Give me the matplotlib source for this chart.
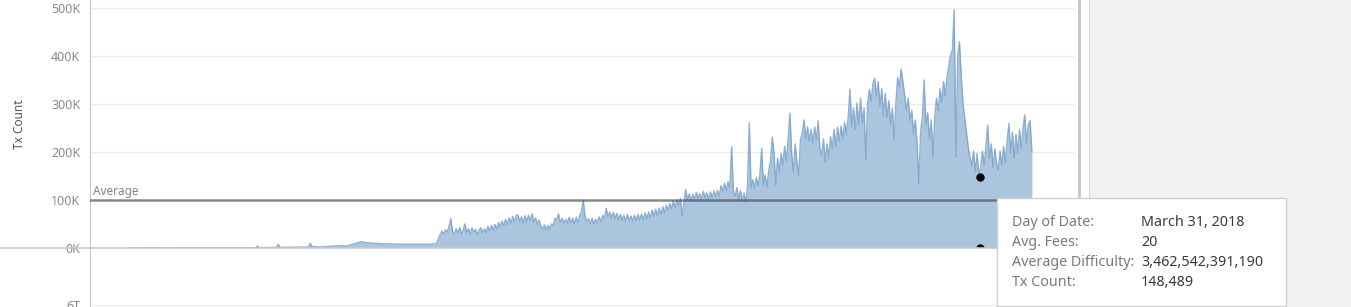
import pandas as pd
import matplotlib.pyplot as plt
from matplotlib.patches import Rectangle
from matplotlib.lines import Line2D

plt.rcParams['font.family'] = ['Noto Sans', 'DejaVu Sans']

# Tx count (thousands) before the 2012 jump
early_dates = ["2009-01-03", "2009-06-01", "2010-01-01", "2010-05-20", "2010-05-27", "2010-06-03",
               "2010-08-10", "2010-08-17", "2010-08-24", "2010-12-15", "2010-12-22", "2010-12-29",
               "2011-02-01", "2011-04-24", "2011-05-15", "2011-06-15", "2011-07-10", "2011-08-01",
               "2011-10-01", "2011-12-01", "2012-02-01", "2012-03-25"]
early_counts = [0.1, 0.1, 0.3, 0.5, 4, 0.8,
                1, 8, 1.2, 2, 10, 3,
                2, 5, 4, 9, 13, 11,
                9, 8, 8, 8]

# Tx count (thousands), one value per week from April 2012
weekly_start = "2012-04-01"
weekly_counts = [
    8, 7, 8, 9, 8, 10,
    20, 28, 35, 30, 38, 33, 45, 62,
    35, 28, 40, 30, 43, 29, 38, 50,
    32, 40, 29, 42, 33, 39, 28, 37,
    42, 31, 40, 33, 45, 36, 47, 37, 49, 40,
    53, 44, 56, 46, 60, 49, 63, 52, 66, 54,
    68, 69, 55, 65, 52, 67, 55, 68, 57, 71,
    54, 63, 50, 58, 45, 40, 48, 38, 47, 40,
    50, 48, 62, 60, 71, 53, 62, 51, 60, 52,
    64, 53, 62, 50, 64, 54, 67, 76, 100, 66,
    55, 61, 50, 62, 50, 60, 53, 65, 55, 68,
    62, 83, 64, 75, 62, 74, 61, 72, 59, 70,
    58, 68, 56, 70, 58, 67, 55, 68, 57, 70,
    58, 71, 59, 73, 61, 75, 63, 79, 66, 81,
    68, 83, 70, 86, 73, 89, 78, 93, 81, 98,
    84, 100, 88, 103, 66, 96, 122, 100, 113, 99,
    112, 101, 116, 104, 113, 101, 118, 104, 115, 102,
    117, 105, 119, 107, 120, 108, 130, 118, 135, 121,
    138, 126, 211, 118, 108, 126, 100, 120, 97, 114,
    96, 126, 261, 125, 142, 124, 147, 130, 152, 208,
    132, 152, 126, 162, 180, 231, 198, 131, 187, 158,
    197, 172, 212, 182, 227, 281, 198, 158, 217, 178,
    152, 227, 238, 267, 226, 252, 222, 247, 217, 252,
    226, 265, 207, 193, 227, 178, 217, 188, 232, 207,
    247, 212, 252, 222, 254, 227, 262, 237, 272, 331,
    252, 292, 247, 302, 257, 312, 262, 292, 183, 302,
    330, 306, 342, 354, 316, 347, 296, 332, 276, 322,
    272, 307, 257, 292, 225, 302, 355, 336, 373, 346,
    318, 286, 312, 266, 287, 237, 267, 217, 135, 242,
    272, 350, 257, 282, 227, 267, 190, 272, 312, 287,
    332, 302, 347, 317, 358, 380, 402, 412, 496, 190,
    400, 430, 360, 300, 270, 240, 210, 188, 172, 202,
    158, 197, 150, 168, 202, 172, 212, 256, 187, 217,
    168, 207, 177, 163, 202, 172, 212, 178, 222, 260,
    197, 242, 188, 237, 197, 247, 207, 252, 277, 217,
    257, 265, 200,
]

average_tx = 100
y_ticks = [0, 100, 200, 300, 400, 500]
y_labels = ["0K", "100K", "200K", "300K", "400K", "500K"]

tip_date = "2018-03-31"
tip_count = 148489
tip_fees = 20
tip_labels = ["Day of Date:", "Avg. Fees:", "Average Difficulty:", "Tx Count:"]
tip_values = ["March 31, 2018", "20", "3,462,542,391,190", "148,489"]

dates = list(pd.to_datetime(early_dates)) + list(pd.date_range(weekly_start, periods=len(weekly_counts), freq="7D"))
counts = early_counts + weekly_counts

W, H = 1351, 307
fig = plt.figure(figsize=(W / 100, H / 100), dpi=100)

# grey side panel
fig.patches.append(Rectangle((1089 / W, 0), (W - 1089) / W, 1, transform=fig.transFigure,
                             facecolor="#f1f1f1", edgecolor="none", zorder=0))

ax = fig.add_axes([90 / W, 1 - 248 / H, 984 / W, 248 / H])
ax.fill_between(dates, counts, 0, color="#abc5de", lw=0, zorder=2)
ax.plot(dates, counts, color="#7ba3ca", lw=1.0, alpha=0.85, zorder=2)
ax.axhline(average_tx, color="#333333", alpha=0.55, lw=1.8, zorder=3)
ax.text(pd.Timestamp("2008-08-12"), average_tx + 4, "Average", color="#858585", fontsize=8.5,
        va="bottom", ha="left")
ax.plot([pd.Timestamp(tip_date)], [tip_count / 1000], "o", color="black", ms=5, zorder=4)
ax.plot([pd.Timestamp(tip_date)], [tip_fees / 1000], "o", color="black", ms=5, zorder=4)

ax.set_xlim(pd.Timestamp("2008-08-01"), pd.Timestamp("2019-04-06"))
ax.set_ylim(0, 516.7)
ax.set_yticks(y_ticks)
ax.set_yticklabels(y_labels)
ax.tick_params(axis="y", length=0, pad=7, labelsize=9, labelcolor="#8a8a8a")
ax.set_xticks([])
ax.yaxis.grid(True, color="#ececec", lw=1)
ax.set_axisbelow(True)
for s in ["top", "right", "bottom"]:
    ax.spines[s].set_visible(False)
ax.spines["left"].set_color("#c8c8c8")
ax.set_ylabel("Tx Count", fontsize=8.5, color="#555555")
ax.yaxis.set_label_coords(-0.065, 0.5)

# lower pane (difficulty), mostly cut off
ax2 = fig.add_axes([90 / W, 0, 984 / W, 59 / H])
ax2.set_xlim(ax.get_xlim())
ax2.set_ylim(5.9, 8.9)
ax2.set_yticks([6])
ax2.set_yticklabels(["6T"])
ax2.tick_params(axis="y", length=0, pad=7, labelsize=9, labelcolor="#8a8a8a")
ax2.set_xticks([])
ax2.yaxis.grid(True, color="#ececec", lw=1)
for s in ["top", "right", "bottom"]:
    ax2.spines[s].set_visible(False)
ax2.spines["left"].set_color("#c8c8c8")

# pane separators
fig.lines.append(Line2D([0, 1078 / W], [1 - 248 / H] * 2, transform=fig.transFigure, color="#c8c8c8", lw=1.2))
fig.lines.append(Line2D([1079 / W] * 2, [0, 1], transform=fig.transFigure, color="#c4c4c4", lw=2))
fig.lines.append(Line2D([1089 / W] * 2, [0, 1], transform=fig.transFigure, color="#dadada", lw=0.8))

# tooltip
fig.patches.append(Rectangle((997 / W, 1 - 306 / H), 289 / W, 108 / H, transform=fig.transFigure,
                             facecolor="white", edgecolor="#d0d0d0", lw=1, zorder=5))
for i, (lab, val) in enumerate(zip(tip_labels, tip_values)):
    yy = 1 - (223 + i * 20) / H
    fig.text(1012 / W, yy, lab, color="#7a7a7a", fontsize=10.3, va="center", ha="left", zorder=6)
    fig.text(1141 / W, yy, val, color="#3a3a3a", fontsize=10.3, va="center", ha="left", zorder=6)

fig.savefig("out.png", dpi=100)
